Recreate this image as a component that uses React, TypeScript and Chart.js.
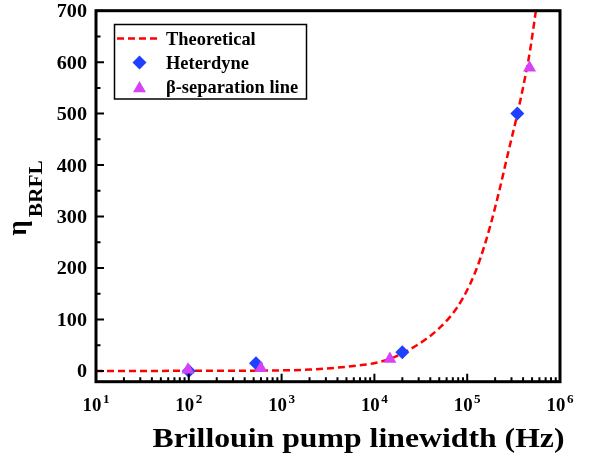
import React, { useEffect, useRef } from 'react';
import { Chart, registerables } from 'chart.js';

Chart.register(...registerables);

// ---- data ----
const theoryX = [10, 30, 100, 300, 1000, 2000, 3000, 5000, 7000, 10000, 15000, 20000, 30000, 50000, 77000, 107000, 137000, 176000, 225000, 277000, 347000, 420000, 475000, 550000];
const theoryY = [0, 0, 0.1, 0.3, 1, 2.5, 4.5, 8, 11, 15, 24, 34, 52, 83, 122, 168, 216, 280, 355, 425, 499, 570, 622, 700];

const heterodyneX = [100, 530, 20000, 347000];
const heterodyneY = [0, 15, 36, 500];

const betaX = [98, 598, 14700, 470000];
const betaY = [2, 5, 23, 589];

const xMajorTicks = [10, 100, 1000, 10000, 100000, 1000000];
const xTickExponents = ['1', '2', '3', '4', '5', '6'];
const yTicks = [0, 100, 200, 300, 400, 500, 600, 700];
const yMinorStep = 50;

const legendLabels = ['Theoretical', 'Heterdyne', 'β-separation line'];
const xTitle = 'Brillouin pump linewidth (Hz)';
const yTitleMain = 'η';
const yTitleSub = 'BRFL';

const RED = 'rgb(255,0,0)';
const BLUE = 'rgb(32,64,255)';
const MAGENTA = 'rgb(214,66,245)';
const SERIF = '"Liberation Serif", "Times New Roman", serif';

function txt(ctx: CanvasRenderingContext2D, s: string, x: number, y: number, size: number, align: CanvasTextAlign, sx = 1, fitWidth?: number) {
  ctx.save();
  ctx.font = `bold ${size}px ${SERIF}`;
  let scale = sx;
  if (fitWidth) {
    const w = ctx.measureText(s).width;
    scale = fitWidth / w;
  }
  ctx.translate(x, y);
  ctx.scale(scale, 1);
  ctx.textAlign = align;
  ctx.textBaseline = 'alphabetic';
  ctx.fillStyle = '#000';
  ctx.fillText(s, 0, 0);
  ctx.restore();
}

const decorPlugin = {
  id: 'decor',
  afterDraw(chart: any) {
    const ctx: CanvasRenderingContext2D = chart.ctx;
    const area = chart.chartArea;
    const xs = chart.scales.x;
    const ys = chart.scales.y;
    ctx.save();

    // ticks (inward)
    ctx.strokeStyle = '#000';
    ctx.lineWidth = 2;
    ctx.beginPath();
    for (let i = 0; i < xMajorTicks.length; i++) {
      const px = xs.getPixelForValue(xMajorTicks[i]);
      ctx.moveTo(px, area.bottom);
      ctx.lineTo(px, area.bottom - 8);
      if (i < xMajorTicks.length - 1) {
        for (let k = 2; k <= 9; k++) {
          const mx = xs.getPixelForValue(xMajorTicks[i] * k);
          ctx.moveTo(mx, area.bottom);
          ctx.lineTo(mx, area.bottom - 4.5);
        }
      }
    }
    for (let i = 0; i < yTicks.length; i++) {
      const py = ys.getPixelForValue(yTicks[i]);
      ctx.moveTo(area.left, py);
      ctx.lineTo(area.left + 8, py);
      if (i < yTicks.length - 1) {
        const my = ys.getPixelForValue(yTicks[i] + yMinorStep);
        ctx.moveTo(area.left, my);
        ctx.lineTo(area.left + 4.5, my);
      }
    }
    ctx.stroke();

    // frame
    ctx.lineWidth = 3;
    ctx.strokeRect(area.left, area.top, area.right - area.left, area.bottom - area.top);

    // y tick labels
    for (const v of yTicks) {
      const py = ys.getPixelForValue(v);
      txt(ctx, String(v), 87, py + 6.5, 18.5, 'right', 1.09);
    }

    // x tick labels with superscripts
    for (let i = 0; i < xMajorTicks.length; i++) {
      const px = xs.getPixelForValue(xMajorTicks[i]);
      ctx.font = `bold 18.5px ${SERIF}`;
      const wMain = ctx.measureText('10').width * 1.02;
      ctx.font = `bold 12.5px ${SERIF}`;
      const wSup = ctx.measureText(xTickExponents[i]).width * 1.05;
      const total = wMain + 1.5 + wSup;
      const start = px - total / 2;
      txt(ctx, '10', start, 410.5, 18.5, 'left', 1.02);
      txt(ctx, xTickExponents[i], start + wMain + 1.5, 402.5, 12.5, 'left', 1.05);
    }

    // x title
    txt(ctx, xTitle, 152.5, 446.5, 28, 'left', 1, 412);

    // y title (rotated)
    ctx.save();
    const cy = (area.top + area.bottom) / 2 + 1;
    ctx.translate(26, cy);
    ctx.rotate(-Math.PI / 2);
    txt(ctx, yTitleMain, -38.5, 0, 27, 'left', 1.0);
    txt(ctx, yTitleSub, -20, 16, 18.5, 'left', 1, 57);
    ctx.restore();

    // legend
    ctx.lineWidth = 1.5;
    ctx.strokeStyle = '#000';
    ctx.strokeRect(114.5, 24.5, 192, 74.5);
    const rows = [38.5, 62.5, 87];
    const bases = [45, 69, 93.3];
    ctx.save();
    ctx.strokeStyle = RED;
    ctx.lineWidth = 2.5;
    ctx.setLineDash([7, 4]);
    ctx.beginPath();
    ctx.moveTo(117, rows[0]);
    ctx.lineTo(161, rows[0]);
    ctx.stroke();
    ctx.restore();
    ctx.fillStyle = BLUE;
    ctx.beginPath();
    const dx = 139.5, dy = rows[1], r = 7;
    ctx.moveTo(dx, dy - r);
    ctx.lineTo(dx + r, dy);
    ctx.lineTo(dx, dy + r);
    ctx.lineTo(dx - r, dy);
    ctx.closePath();
    ctx.fill();
    ctx.fillStyle = MAGENTA;
    ctx.beginPath();
    const tx = 139.5, ty = rows[2] + 1.5, tr = 7.5;
    ctx.moveTo(tx, ty - tr);
    ctx.lineTo(tx + tr * Math.sin((2 * Math.PI) / 3), ty + tr / 2);
    ctx.lineTo(tx - tr * Math.sin((2 * Math.PI) / 3), ty + tr / 2);
    ctx.closePath();
    ctx.fill();
    for (let i = 0; i < legendLabels.length; i++) {
      txt(ctx, legendLabels[i], 166, bases[i], 19, 'left', 0.97);
    }

    ctx.restore();
  },
};

export default function App() {
  const ref = useRef<HTMLCanvasElement | null>(null);
  useEffect(() => {
    document.body.style.margin = '0';
    const canvas = ref.current;
    if (!canvas) return;
    const theory = theoryX.map((x, i) => ({ x, y: theoryY[i] }));
    const het = heterodyneX.map((x, i) => ({ x, y: heterodyneY[i] }));
    const beta = betaX.map((x, i) => ({ x, y: betaY[i] }));
    const chart = new Chart(canvas, {
      type: 'line',
      data: {
        datasets: [
          {
            label: legendLabels[0],
            data: theory,
            borderColor: RED,
            borderWidth: 2.5,
            borderDash: [7, 4],
            pointRadius: 0,
            cubicInterpolationMode: 'monotone',
            fill: false,
            order: 3,
          },
          {
            label: legendLabels[1],
            data: het,
            showLine: false,
            pointStyle: 'rectRot',
            pointRadius: 7,
            pointBackgroundColor: BLUE,
            pointBorderColor: BLUE,
            pointBorderWidth: 0,
            order: 2,
          },
          {
            label: legendLabels[2],
            data: beta,
            showLine: false,
            pointStyle: 'triangle',
            pointRadius: 7.5,
            pointBackgroundColor: MAGENTA,
            pointBorderColor: MAGENTA,
            pointBorderWidth: 0,
            order: 1,
          },
        ],
      },
      options: {
        animation: false,
        responsive: false,
        devicePixelRatio: 1,
        layout: { padding: { left: 96, right: 31, top: 10.7, bottom: 77.3 } },
        plugins: { legend: { display: false }, tooltip: { enabled: false } },
        scales: {
          x: { type: 'logarithmic', min: 10, max: 1000000, display: false },
          y: { type: 'linear', min: -21, max: 700, display: false },
        },
      },
      plugins: [decorPlugin],
    } as any);
    return () => chart.destroy();
  }, []);
  return (
    <div style={{ width: 591, height: 459, background: '#fff' }}>
      <canvas ref={ref} width={591} height={459} style={{ width: 591, height: 459, display: 'block' }} />
    </div>
  );
}
